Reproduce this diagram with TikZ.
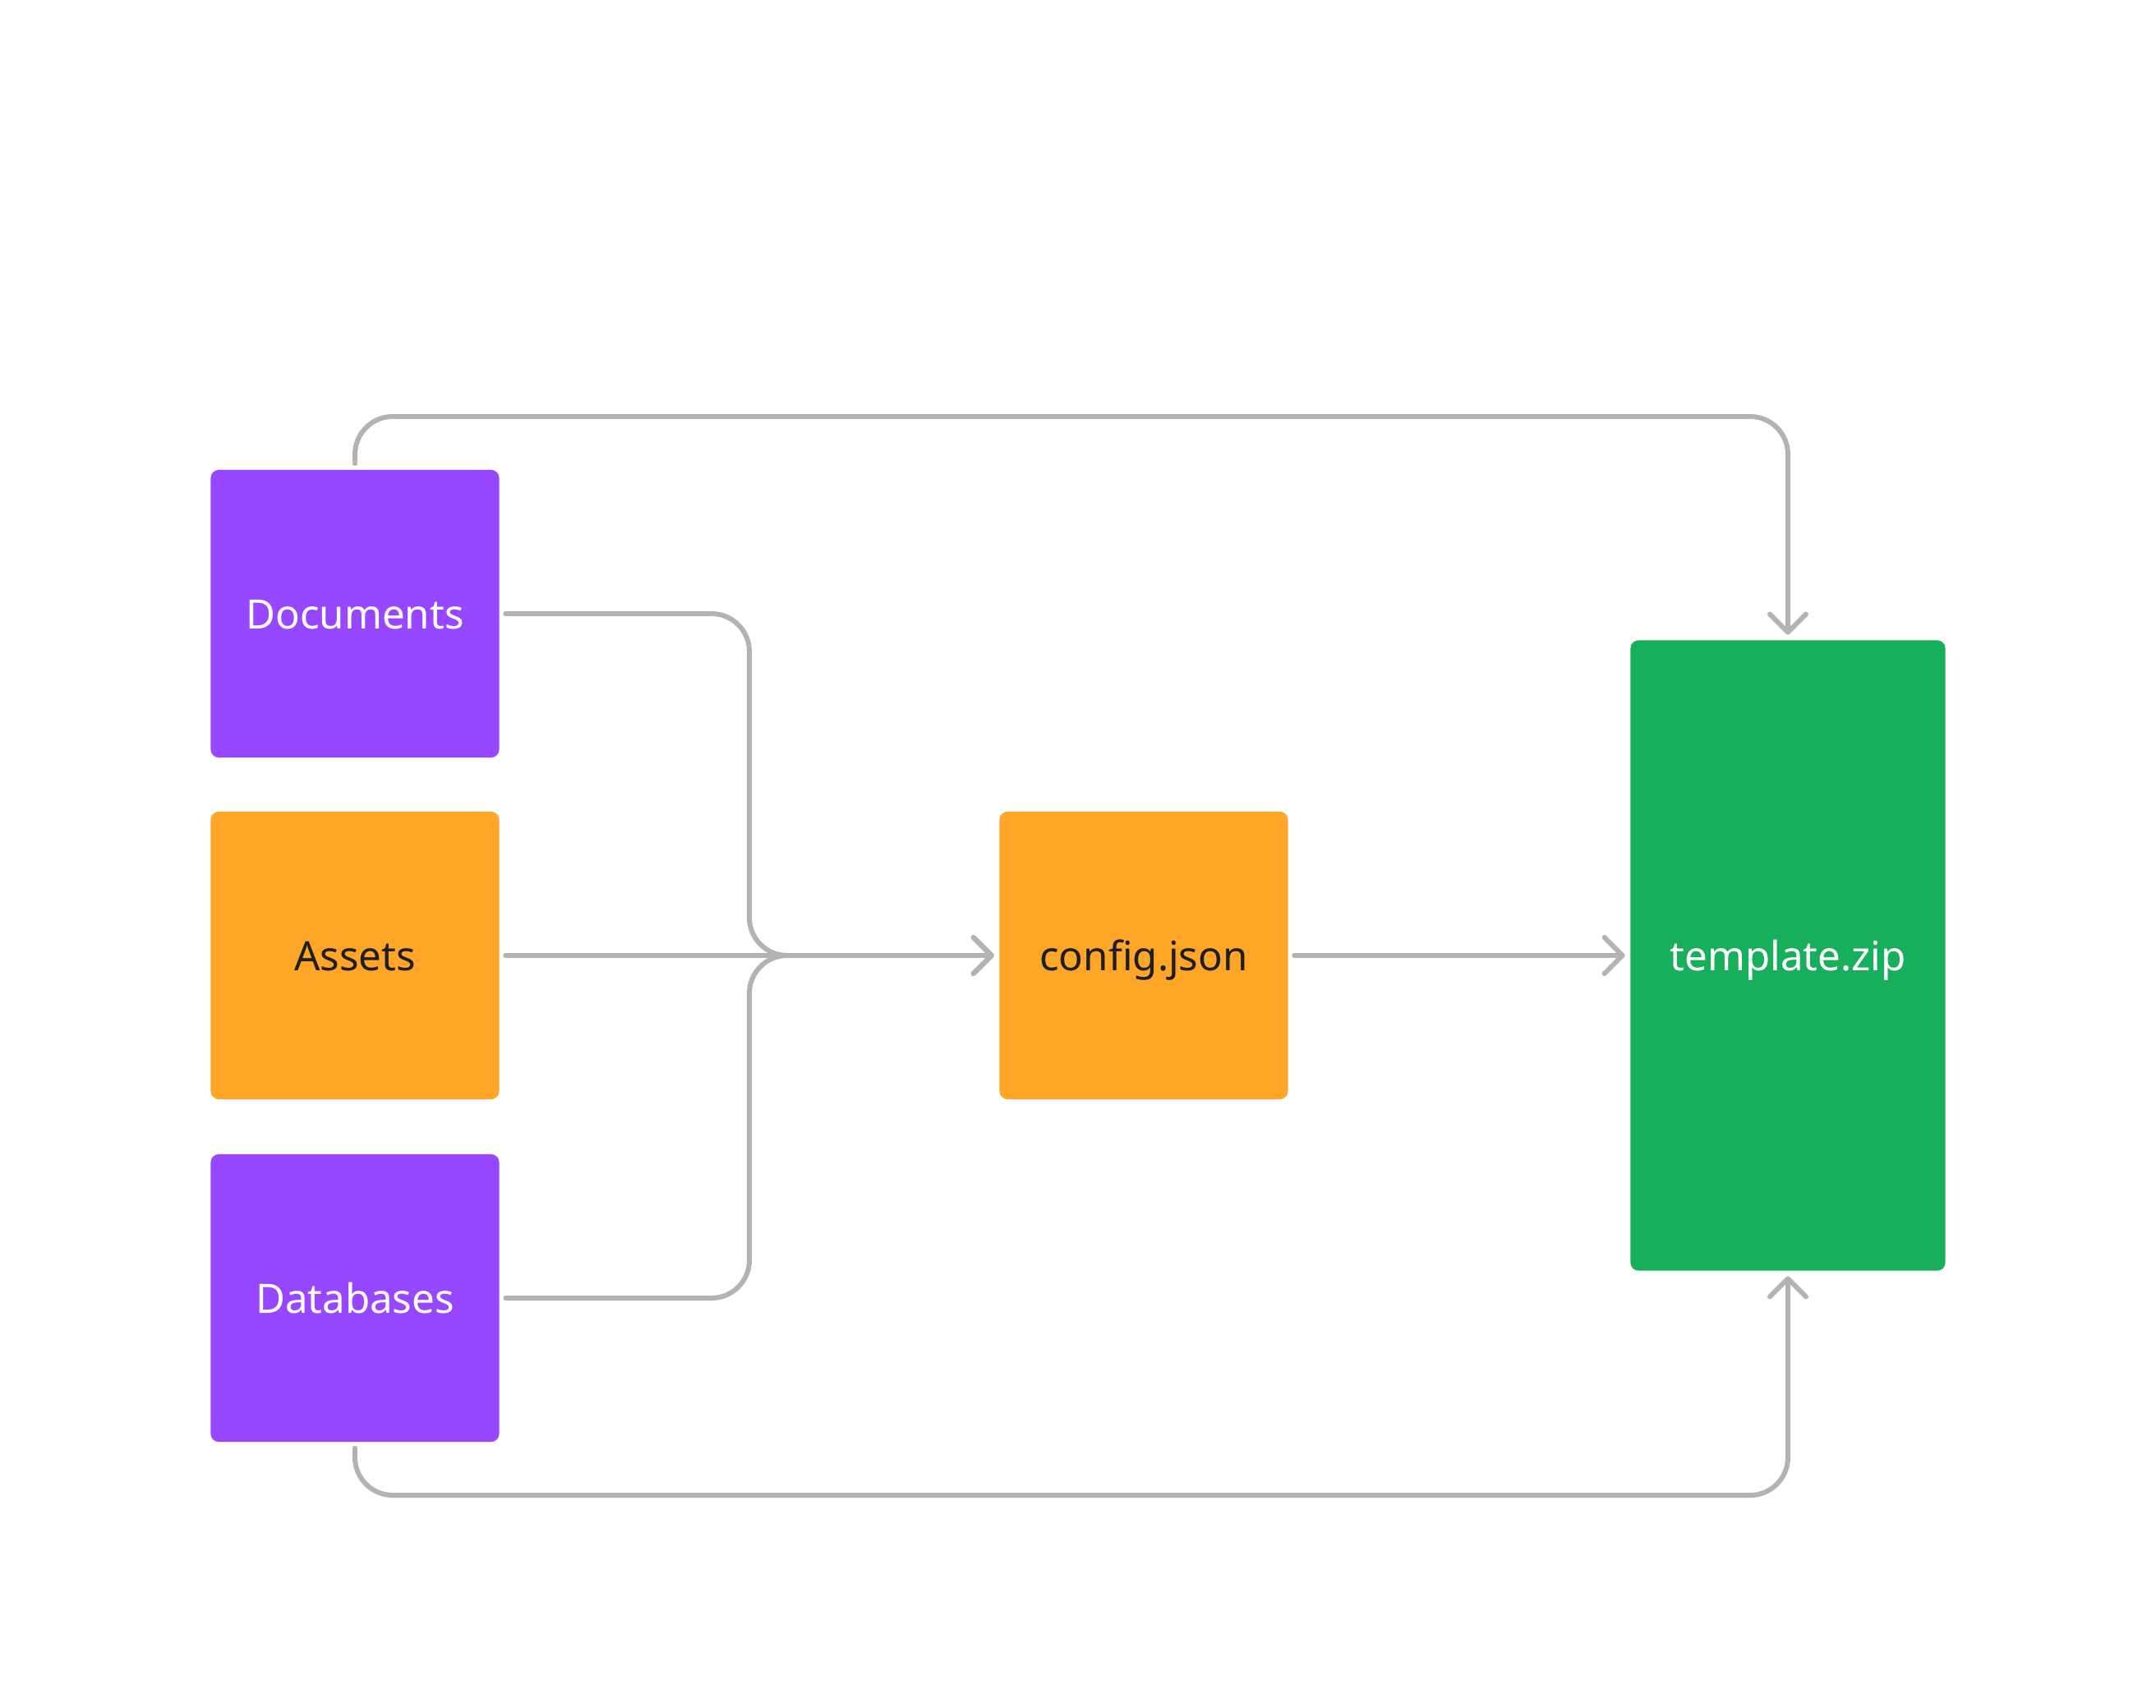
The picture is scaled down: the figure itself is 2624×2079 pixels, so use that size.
\documentclass[tikz,border=0pt]{standalone}
\usepackage{fontspec}
\setmainfont{Noto Sans}
\usetikzlibrary{arrows.meta}

\definecolor{violetbox}{HTML}{9747FF}
\definecolor{amberbox}{HTML}{FFA629}
\definecolor{greenbox}{HTML}{17AE5C}
\definecolor{wire}{HTML}{B3B3B3}
\definecolor{ink}{HTML}{1E1E1E}

\tikzset{
  card/.style={rounded corners=0.1cm, minimum width=3.51cm, minimum height=3.5cm,
    inner sep=0pt, text height=10.4pt, text depth=0pt,
    font=\fontsize{14pt}{16pt}\selectfont},
  purplecard/.style={card, fill=violetbox, text=white},
  orangecard/.style={card, fill=amberbox, text=ink},
  greencard/.style={card, fill=greenbox, text=white, minimum width=3.83cm, minimum height=7.67cm},
  wireline/.style={draw=wire, line width=1.7pt, line cap=round, line join=round,
    rounded corners=0.46cm, shorten <=0.07cm},
  tipped/.style={wireline, -{Straight Barb[round,length=2.2mm,width=4.4mm]}, shorten >=0.06cm},
}

\begin{document}
\begin{tikzpicture}[x=0.01cm, y=-0.01cm]
  \useasboundingbox (0,0) rectangle (2624,2079);

  % sources
  \node[purplecard] (docs)   at (432,747)  {Documents};
  \node[orangecard] (assets) at (432,1163) {Assets};
  \node[purplecard] (dbs)    at (432,1580) {Databases};

  % intermediate and result
  \node[orangecard] (config) at (1392,1163) {config.json};
  \node[greencard]  (zip)    at (2176,1163) {template.zip};

  % merge into config.json
  \draw[tipped] (docs.east) -- (912,747) -- (912,1163) -- (config.west);
  \draw[tipped] (dbs.east) -- (912,1580) -- (912,1163) -- (config.west);
  \draw[tipped] (assets.east) -- (config.west);

  % config.json into the archive
  \draw[tipped] (config.east) -- (zip.west);

  % bypass loops over and under
  \draw[tipped] (docs.north) -- (432,507) -- (2176,507) -- (zip.north);
  \draw[tipped] (dbs.south) -- (432,1820) -- (2176,1820) -- (zip.south);
\end{tikzpicture}
\end{document}
